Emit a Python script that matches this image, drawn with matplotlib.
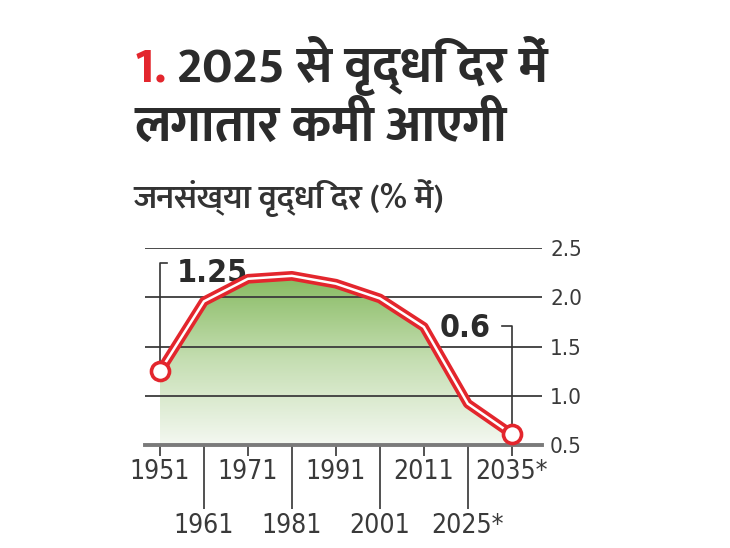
import numpy as np
import matplotlib
matplotlib.use('Agg')
import matplotlib.pyplot as plt
from matplotlib import font_manager
from matplotlib.colors import LinearSegmentedColormap

# data
years = ['1951', '1961', '1971', '1981', '1991', '2001', '2011', '2025*', '2035*']
growth = [1.25, 1.96, 2.19, 2.22, 2.14, 1.99, 1.70, 0.92, 0.61]
y_ticks = [0.5, 1.0, 1.5, 2.0, 2.5]

title_num = '1.'
title_line1 = '2025 से वृद्धि दर में'
title_line2 = 'लगातार कमी आएगी'
subtitle = 'जनसंख्या वृद्धि दर (% में)'
first_label = '1.25'
last_label = '0.6'

installed = {f.name for f in font_manager.fontManager.ttflist}
hindi_family = [n for n in ['Ek Mukta', 'FreeSans'] if n in installed][:1] + ['DejaVu Sans']
num_family = 'Liberation Sans Narrow' if 'Liberation Sans Narrow' in installed else 'DejaVu Sans'

red = '#e3262d'
dark = '#2b2b2b'

fig = plt.figure(figsize=(7.3, 5.48), dpi=100)
ax = fig.add_axes([145 / 730, 1 - 445 / 548, (541.7 - 145) / 730, (445 - 248.3) / 548])

x = np.arange(len(years))

# green gradient under the curve
area = ax.fill_between(x, growth, 0.5, color='none', lw=0)
grad = np.linspace(0, 1, 256).reshape(-1, 1)
cmap = LinearSegmentedColormap.from_list('g', ['#f4f8f1', '#c5deb2', '#86ba60'])
im = ax.imshow(grad, cmap=cmap, origin='lower', aspect='auto',
               extent=[x[0], x[-1], 0.5, max(growth)], zorder=1)
im.set_clip_path(area.get_paths()[0], transform=ax.transData)

# grid lines
for v in y_ticks[1:]:
    ax.axhline(v, color='#3c3c3c', lw=1.3, zorder=2)
ax.axhline(0.5, color='#7a7a7a', lw=2.8, zorder=2, clip_on=False)

# brackets for the end labels
ax.plot([0, 0, 0.15], [growth[0], 2.35, 2.35], color='#333333', lw=1.2, zorder=3, clip_on=False)
ax.plot([7.77, 8, 8], [1.71, 1.71, growth[-1]], color='#333333', lw=1.2, zorder=3, clip_on=False)
ax.text(0.38, 2.16, first_label, fontsize=23, fontweight='bold', color=dark,
        family=num_family, fontstretch='condensed', va='baseline', ha='left')
ax.text(6.37, 1.595, last_label, fontsize=23, fontweight='bold', color=dark,
        family=num_family, fontstretch='condensed', va='baseline', ha='left')

# red double line with open circles at the ends
ax.plot(x, growth, color=red, lw=7, solid_joinstyle='round', zorder=4, clip_on=False)
ax.plot(x, growth, color='white', lw=1.8, solid_joinstyle='round', zorder=5, clip_on=False)
ax.plot(x[[0, -1]], [growth[0], growth[-1]], 'o', ms=13, mfc='white', mec=red, mew=2.6,
        zorder=6, clip_on=False)

ax.set_xlim(-0.34, 8.68)
ax.set_ylim(0.5, 2.5)
for s in ax.spines.values():
    s.set_visible(False)

ax.set_yticks(y_ticks)
ax.set_yticklabels([f'{v:.1f}' for v in y_ticks])
ax.yaxis.tick_right()
ax.tick_params(axis='y', length=0, pad=6, labelsize=16, labelcolor='#3a3a3a')

ax.set_xticks(x[::2])
ax.set_xticklabels(years[::2])
ax.set_xticks(x[1::2], minor=True)
ax.set_xticklabels(years[1::2], minor=True)
ax.tick_params(axis='x', which='major', length=8, width=1.2, color='#333333', pad=2,
               labelsize=19, labelcolor='#3a3a3a')
ax.tick_params(axis='x', which='minor', length=46, width=1.2, color='#333333', pad=3,
               labelsize=19, labelcolor='#3a3a3a')

for lbl in ax.get_xticklabels(which='both') + ax.get_yticklabels():
    lbl.set_fontfamily(num_family)
    lbl.set_fontstretch('condensed')

# title
t1 = fig.text(134 / 730, 1 - 82 / 548, title_num, color=red, fontsize=37, fontweight='bold',
              family=hindi_family, va='baseline', ha='left')
fig.canvas.draw()
bb = t1.get_window_extent()
fig.text(bb.x1 / 730 + 0.014, 1 - 82 / 548, title_line1, color=dark, fontsize=37,
         fontweight='bold', family=hindi_family, va='baseline', ha='left')
fig.text(134 / 730, 1 - 141 / 548, title_line2, color=dark, fontsize=37, fontweight='bold',
         family=hindi_family, va='baseline', ha='left')
fig.text(133 / 730, 1 - 208 / 548, subtitle, color='#333333', fontsize=24, fontweight=600,
         family=hindi_family, va='baseline', ha='left')

fig.savefig('out.png', dpi=100)
